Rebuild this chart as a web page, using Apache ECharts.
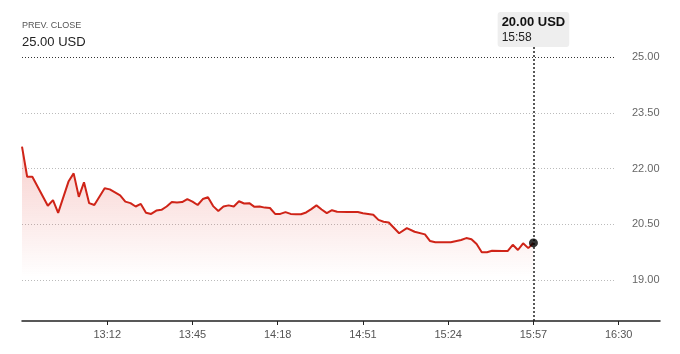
<!DOCTYPE html>
<html>
<head>
<meta charset="utf-8">
<script src="https://cdn.jsdelivr.net/npm/echarts@6/dist/echarts.min.js"></script>
<style>
html,body{margin:0;padding:0;background:#fff;}
#c{width:680px;height:354px;}
</style>
</head>
<body>
<div id="c"></div>
<script>
const times = ['12:39','12:41','12:43','12:49','12:51','12:53','12:57','12:59','13:01','13:03',
  '13:05','13:07','13:11','13:13','13:17','13:19','13:21','13:23','13:25','13:27',
  '13:29','13:31','13:33','13:35','13:37','13:39','13:41','13:43','13:45','13:47',
  '13:49','13:51','13:53','13:55','13:57','13:59','14:01','14:03','14:05','14:07',
  '14:09','14:11','14:13','14:15','14:17','14:19','14:21','14:23','14:25','14:27',
  '14:29','14:31','14:33','14:35','14:37','14:39','14:41','14:45','14:49','14:51',
  '14:55','14:57','14:59','15:01','15:05','15:08','15:11','15:15','15:17','15:19',
  '15:25','15:29','15:31','15:33','15:35','15:37','15:39','15:41','15:45','15:47',
  '15:49','15:51','15:53','15:55','15:57'];
const prices = [22.59,21.78,21.78,21.00,21.15,20.81,21.65,21.87,21.24,21.63,
  21.07,21.02,21.47,21.44,21.28,21.11,21.07,20.98,21.05,20.81,
  20.78,20.87,20.89,20.98,21.10,21.09,21.10,21.18,21.11,21.02,
  21.18,21.23,20.99,20.86,20.98,21.01,20.98,21.12,21.06,21.07,
  20.97,20.98,20.95,20.94,20.78,20.78,20.83,20.78,20.77,20.77,
  20.82,20.91,21.01,20.90,20.80,20.88,20.84,20.83,20.83,20.80,
  20.76,20.62,20.57,20.55,20.26,20.40,20.30,20.23,20.05,20.02,
  20.02,20.08,20.13,20.10,19.97,19.75,19.75,19.79,19.78,19.78,
  19.95,19.81,19.99,19.86,20.00];
const xTickLabels = ['13:12','13:45','14:18','14:51','15:24','15:57','16:30'];
const yTicks = [19.00,20.50,22.00,23.50,25.00];
const prevClose = 25.00;
const currency = 'USD';
const lastTimeLabel = '15:58';

const toMin = s => { const p = s.split(':'); return (+p[0]) * 60 + (+p[1]); };
const toLabel = m => { const h = Math.floor(m / 60), mm = Math.round(m % 60); return h + ':' + (mm < 10 ? '0' : '') + mm; };
const data = times.map((t, i) => [toMin(t), prices[i]]);
const last = data[data.length - 1];
const xTickVals = xTickLabels.map(toMin);

const chart = echarts.init(document.getElementById('c'));
const FONT = 'Liberation Sans, Arial, sans-serif';
chart.setOption({
  animation: false,
  grid: [
    {left: 22, right: 20, top: 47, bottom: 33},
    {left: 22, right: 65, top: 57, bottom: 74}
  ],
  graphic: [
    {type: 'text', left: 22, top: 21, style: {text: 'PREV. CLOSE', font: '9px ' + FONT, fill: '#555'}},
    {type: 'text', left: 22, top: 36, style: {text: prevClose.toFixed(2) + ' ' + currency, font: '13px ' + FONT, fill: '#222'}}
  ],
  xAxis: [
    {
      type: 'value', gridIndex: 0, min: 759, max: 1006,
      axisLine: {show: true, lineStyle: {color: '#222', width: 1.5}},
      axisTick: {show: true, customValues: xTickVals, length: 4, lineStyle: {color: '#222'}},
      axisLabel: {customValues: xTickVals, formatter: v => toLabel(v), color: '#555', fontSize: 11, fontFamily: FONT, margin: 8},
      splitLine: {show: false}
    },
    {type: 'value', gridIndex: 1, min: 0, max: 1, show: false}
  ],
  yAxis: [
    {type: 'value', gridIndex: 0, min: 17.9, max: 25.27, show: false, splitLine: {show: false}},
    {
      type: 'value', gridIndex: 1, position: 'right', min: yTicks[0], max: yTicks[yTicks.length - 1], interval: 1.5,
      axisLine: {show: false}, axisTick: {show: false},
      axisLabel: {formatter: v => v.toFixed(2), color: '#666', fontSize: 11, fontFamily: FONT, margin: 17},
      splitLine: {show: true, lineStyle: {color: ['#bbb', '#bbb', '#bbb', '#bbb', '#333'], type: [1, 2], width: 1}}
    }
  ],
  series: [
    {
      type: 'line', xAxisIndex: 0, yAxisIndex: 0, data: data, showSymbol: false,
      lineStyle: {color: '#cf2418', width: 2},
      areaStyle: {color: new echarts.graphic.LinearGradient(0, 0, 0, 1, [
        {offset: 0, color: 'rgba(222,40,30,0.32)'},
        {offset: 0.35, color: 'rgba(222,40,30,0.17)'},
        {offset: 0.75, color: 'rgba(222,40,30,0)'}
      ])},
      markLine: {
        silent: true, symbol: ['none', 'none'],
        lineStyle: {color: '#222', type: [2, 2], width: 1.5},
        label: {
          show: true, position: 'end', distance: 0,
          formatter: '{a|' + last[1].toFixed(2) + ' ' + currency + '}\n{b|' + lastTimeLabel + '}',
          backgroundColor: '#eeeeee', borderRadius: 3, padding: [3, 4, 2, 4],
          rich: {
            a: {fontSize: 13, fontWeight: 'bold', color: '#111', fontFamily: FONT, lineHeight: 15, align: 'left'},
            b: {fontSize: 12, color: '#222', fontFamily: FONT, lineHeight: 15, align: 'left'}
          }
        },
        data: [{xAxis: last[0]}]
      },
      z: 3
    },
    {
      type: 'scatter', xAxisIndex: 0, yAxisIndex: 0, data: [last], symbolSize: 9,
      itemStyle: {color: '#000'}, z: 5, silent: true
    }
  ]
});
</script>
</body>
</html>
